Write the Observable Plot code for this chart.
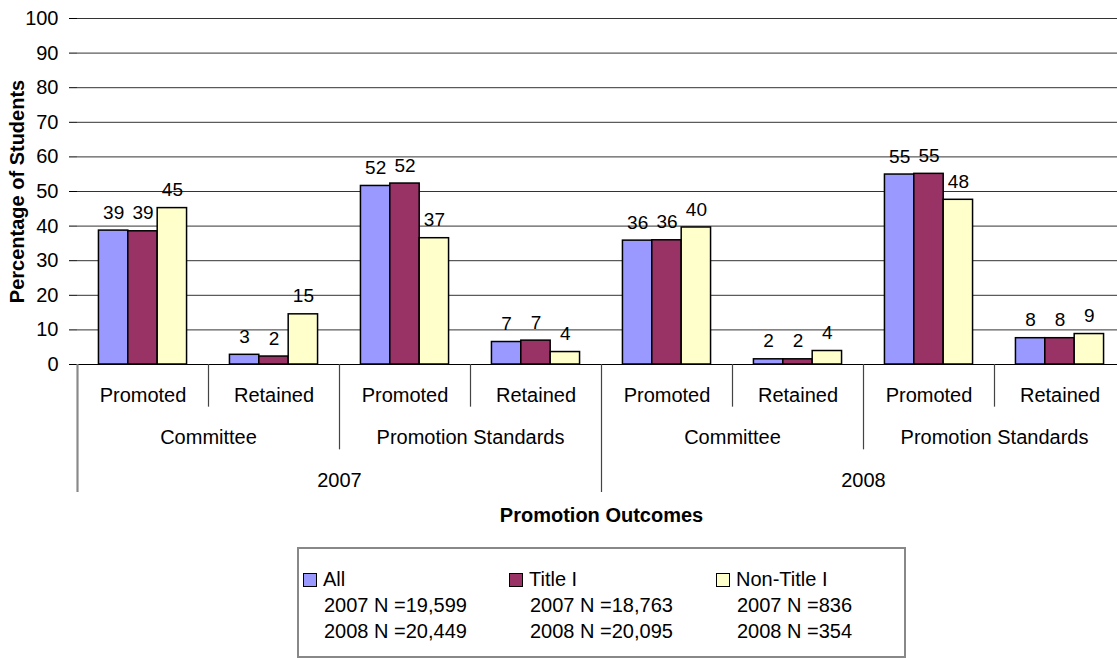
<!DOCTYPE html>
<html>
<head>
<meta charset="utf-8">
<script src="https://cdn.jsdelivr.net/npm/d3@7"></script>
<script src="https://cdn.jsdelivr.net/npm/@observablehq/plot@0.6"></script>
<style>
  html, body { margin: 0; padding: 0; background: #fff; overflow: hidden; }
  body { font-family: "Liberation Sans", Arial, sans-serif; }
  #chart { position: relative; width: 1133px; height: 540px; }
  #chart svg { position: absolute; left: 0; top: 0; }
  #legend {
    position: absolute; left: 297px; top: 547px; width: 609px; height: 111px;
    box-sizing: border-box; border: 2px solid #888;
    font-size: 20px; color: #000; padding: 18px 0 0 4px;
    display: grid; grid-template-columns: 206px 207px 190px;
  }
  .item .head { display: flex; align-items: center; height: 25px; white-space: nowrap; }
  .item .sw { width: 12px; height: 12px; border: 1px solid #000; margin-right: 6px; flex: none; }
  .item .line { height: 26px; line-height: 26px; padding-left: 21px; white-space: nowrap; }
</style>
</head>
<body>
<div id="chart"></div>
<div id="legend"></div>
<script>
// ---- data ----
const years = ["2007", "2008"];
const methods = ["Committee", "Promotion Standards"];
const outcomes = ["Promoted", "Retained"];
const series = ["All", "Title I", "Non-Title I"];
const colors = ["#9999FF", "#993366", "#FFFFCC"];
// order: 2007 Committee Promoted, Retained, 2007 Standards Promoted, Retained, 2008 ...
const allValues      = [38.7, 2.8, 51.6, 6.5, 35.8, 1.5, 54.9, 7.6];
const titleIValues   = [38.5, 2.3, 52.3, 6.9, 35.9, 1.5, 55.1, 7.6];
const nonTitleIValues = [45.2, 14.5, 36.5, 3.6, 39.6, 3.9, 47.6, 8.8];
const n2007 = ["19,599", "18,763", "836"];
const n2008 = ["20,449", "20,095", "354"];
const yTicks = [0, 10, 20, 30, 40, 50, 60, 70, 80, 90, 100];
const yTitle = "Percentage of Students";
const xTitle = "Promotion Outcomes";

// ---- tables ----
const groups = [];
for (const year of years) for (const method of methods) for (const outcome of outcomes)
  groups.push({year, method, outcome, key: `${year}|${method}|${outcome}`, i: groups.length});
const seriesValues = [allValues, titleIValues, nonTitleIValues];
const rows = [];
groups.forEach((g, gi) => series.forEach((s, si) => rows.push({key: g.key, series: s, value: seriesValues[si][gi]})));

const boundaries = d3.range(0, groups.length + 1).map(i => {
  const a = groups[i - 1], b = groups[i];
  const depth = !a || !b || a.year !== b.year ? 3 : a.method !== b.method ? 2 : 1;
  return {i, depth};
});
const methodLabels = d3.groups(groups, d => d.year + "|" + d.method)
  .map(([k, v]) => ({label: v[0].method, x: d3.mean(v, d => d.i + 0.5)}));
const yearLabels = d3.groups(groups, d => d.year)
  .map(([k, v]) => ({label: k, x: d3.mean(v, d => d.i + 0.5)}));

// ---- layout ----
const W = 1133, H = 540, ML = 77, MR = 8, MT = 18, BASE = 364, AXB = 492;
const font = "'Liberation Sans', Arial, sans-serif";
const svgStyle = {background: "transparent", fontFamily: font, fontSize: "20px", maxWidth: "none", overflow: "visible", color: "#000"};

const hasAxisMark = typeof Plot.axisY === "function";
const barMarks = [
  Plot.ruleY(yTicks.filter(d => d > 0), {stroke: "#333", strokeWidth: 1}),
  Plot.barY(rows, {fx: "key", x: "series", y: "value", fill: "series", stroke: "#000", strokeWidth: 1.5}),
  Plot.text(rows, {fx: "key", x: "series", y: "value", text: d => String(Math.round(d.value)), dy: -18, lineAnchor: "middle", fontSize: 19, fill: "#000"}),
  Plot.ruleY([0], {stroke: "#000", strokeWidth: 1.2})
];
if (hasAxisMark) barMarks.push(Plot.axisY({ticks: yTicks, tickSize: 8, tickPadding: 11, fontSize: 20, label: null, stroke: "#000", fill: "#000"}));

const bars = Plot.plot({
  width: W, height: H, marginLeft: ML, marginRight: MR, marginTop: MT, marginBottom: H - BASE,
  style: svgStyle,
  fx: {domain: groups.map(d => d.key), padding: 0, axis: null},
  x: {domain: series, paddingInner: 0, paddingOuter: 0.73, round: false, axis: null},
  y: hasAxisMark ? {domain: [0, 100], axis: null}
                 : {domain: [0, 100], ticks: yTicks, tickSize: 8, tickPadding: 11, label: null},
  color: {domain: series, range: colors},
  marks: barMarks
});

const axis = Plot.plot({
  width: W, height: H, marginLeft: ML, marginRight: MR, marginTop: MT, marginBottom: H - BASE,
  style: svgStyle,
  x: {domain: [0, groups.length], axis: null},
  y: {domain: [0, 3], range: [BASE, AXB], axis: null},
  marks: [
    Plot.ruleX(boundaries, {x: "i", y1: 0, y2: "depth", stroke: "#444", strokeWidth: 1.2}),
    Plot.ruleX([0], {x: d => d, y2: 3, stroke: "#888", strokeWidth: 2}),
    Plot.text(groups, {x: d => d.i + 0.5, y: 0.72, text: "outcome", fill: "#000"}),
    Plot.text(methodLabels, {x: "x", y: 1.72, text: "label", fill: "#000"}),
    Plot.text(yearLabels, {x: "x", y: 2.72, text: "label", fill: "#000"}),
    Plot.text([xTitle], {x: groups.length / 2, y: 3.55, text: d => d, fontWeight: "bold", fill: "#000"}),
    Plot.text([yTitle], {frameAnchor: "left", text: d => d, rotate: -90, dx: -60, textAnchor: "middle", lineAnchor: "middle", fontWeight: "bold", fill: "#000"})
  ]
});

const chart = document.getElementById("chart");
chart.appendChild(bars);
chart.appendChild(axis);

// ---- legend ----
const legend = document.getElementById("legend");
series.forEach((s, i) => {
  const item = document.createElement("div");
  item.className = "item";
  item.innerHTML = `<div class="head"><span class="sw" style="background:${colors[i]}"></span><span>${s}</span></div>
    <div class="line">2007 N =${n2007[i]}</div><div class="line">2008 N =${n2008[i]}</div>`;
  legend.appendChild(item);
});
</script>
</body>
</html>
